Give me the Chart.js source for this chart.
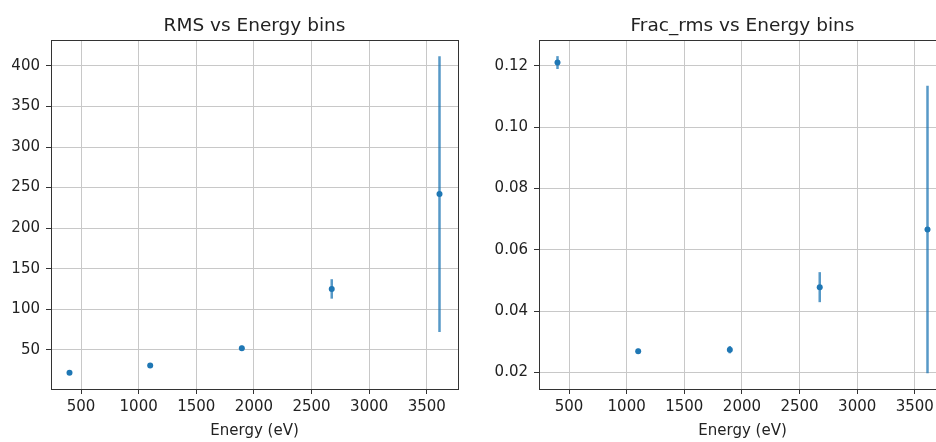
<!DOCTYPE html>
<html>
<head>
<meta charset="utf-8">
<script src="https://cdn.jsdelivr.net/npm/chart.js@4"></script>
<style>
  html, body { margin: 0; padding: 0; background: #fff; overflow: hidden; }
  body { width: 936px; height: 442px; position: relative; }
  canvas { position: absolute; top: 0; }
  #rmsChart { left: 0; }
  #fracChart { left: 466px; }
</style>
</head>
<body>
<canvas id="rmsChart" width="470" height="442"></canvas>
<canvas id="fracChart" width="490" height="442"></canvas>
<script>
// --- data ---
const energies = [400, 1100, 1895, 2675, 3610];          // eV
const rmsValues = [21.5, 30.5, 52, 125, 242];
const rmsErrors = [1, 1.5, 3, 12, 170];
const fracValues = [0.1211, 0.0269, 0.0274, 0.0478, 0.0666];
const fracErrors = [0.0021, 0.0008, 0.0012, 0.0049, 0.0469];

const xTicks = [500, 1000, 1500, 2000, 2500, 3000, 3500];
const rmsTicks = [50, 100, 150, 200, 250, 300, 350, 400];
const fracTicks = [0.02, 0.04, 0.06, 0.08, 0.10, 0.12];

const BLUE = '#1f77b4';
const FONT = 'DejaVu Sans';
const GRID = '#c8c8c8';

// error bars drawn from the data through the scales
const errorBarPlugin = {
    id: 'errorBars',
    beforeDatasetsDraw(chart) {
        const { ctx, scales: { x, y } } = chart;
        const ds = chart.data.datasets[0];
        ctx.save();
        ctx.strokeStyle = 'rgba(31,119,180,0.75)';
        ctx.lineWidth = 2.5;
        ds.data.forEach((p, i) => {
            const err = ds.errors[i];
            const px = x.getPixelForValue(p.x);
            ctx.beginPath();
            ctx.moveTo(px, y.getPixelForValue(p.y - err));
            ctx.lineTo(px, y.getPixelForValue(p.y + err));
            ctx.stroke();
        });
        ctx.restore();
    }
};

// matplotlib-style box round the plot
const framePlugin = {
    id: 'frame',
    afterDraw(chart) {
        const { ctx, chartArea: a } = chart;
        ctx.save();
        ctx.strokeStyle = '#333';
        ctx.lineWidth = 1;
        ctx.strokeRect(Math.round(a.left) + 0.5, Math.round(a.top) + 0.5,
                       Math.round(a.right - a.left), Math.round(a.bottom - a.top));
        ctx.restore();
    }
};

function makeChart(id, title, values, errors, yMin, yMax, yTickVals, yWidth, padRight, fmt) {
    const points = energies.map((e, i) => ({ x: e, y: values[i] }));
    return new Chart(document.getElementById(id), {
        type: 'scatter',
        data: {
            datasets: [{
                data: points,
                errors: errors,
                pointRadius: 3,
                pointBackgroundColor: BLUE,
                pointBorderWidth: 0,
                showLine: false
            }]
        },
        options: {
            responsive: false,
            devicePixelRatio: 1,
            animation: false,
            layout: { padding: { left: 0, right: padRight, top: 0, bottom: 0 } },
            plugins: {
                legend: { display: false },
                tooltip: { enabled: false },
                title: {
                    display: true,
                    text: title,
                    fullSize: false,
                    color: '#222',
                    font: { family: FONT, size: 18.5, weight: 'normal' },
                    padding: { top: 15, bottom: 3 }
                }
            },
            scales: {
                x: {
                    type: 'linear',
                    min: 239.5,
                    max: 3770.5,
                    afterFit: s => { s.height = 53; },
                    afterBuildTicks: s => { s.ticks = xTicks.map(v => ({ value: v })); },
                    border: { display: false },
                    grid: { color: GRID, tickColor: '#333', tickLength: 5, lineWidth: 1 },
                    ticks: {
                        color: '#222',
                        font: { family: FONT, size: 15 },
                        padding: 4,
                        maxRotation: 0,
                        callback: v => String(v)
                    },
                    title: {
                        display: true,
                        text: 'Energy (eV)',
                        color: '#222',
                        font: { family: FONT, size: 15 },
                        padding: { top: 0, bottom: 2 }
                    }
                },
                y: {
                    type: 'linear',
                    min: yMin,
                    max: yMax,
                    afterFit: s => { s.width = yWidth; },
                    afterBuildTicks: s => { s.ticks = yTickVals.map(v => ({ value: v })); },
                    border: { display: false },
                    grid: { color: GRID, tickColor: '#333', tickLength: 5, lineWidth: 1 },
                    ticks: {
                        color: '#222',
                        font: { family: FONT, size: 15 },
                        padding: 6,
                        callback: fmt
                    }
                }
            }
        },
        plugins: [errorBarPlugin, framePlugin]
    });
}

makeChart('rmsChart', 'RMS vs Energy bins', rmsValues, rmsErrors,
    1.6, 431.7, rmsTicks, 51, 12, v => String(v));
makeChart('fracChart', 'Frac_rms vs Energy bins', fracValues, fracErrors,
    0.01456, 0.1284, fracTicks, 73, 10, v => v.toFixed(2));
</script>
</body>
</html>
